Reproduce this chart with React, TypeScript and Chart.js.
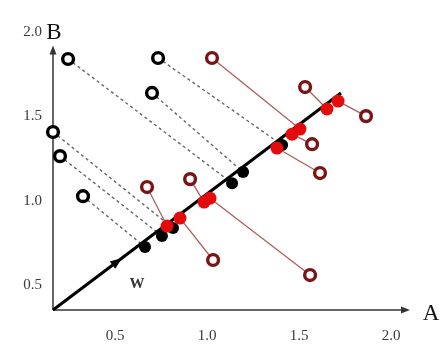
import React, { useEffect, useRef } from "react";
import { Chart, registerables } from "chart.js";

Chart.register(...registerables);

// Tick labels and axis ranges
const xTickValues = [0.5, 1.0, 1.5, 2.0];
const yTickValues = [0.5, 1.0, 1.5, 2.0];
const xRange = [0.163, 2.103];
const yRange = [0.354, 2.0];
const yAxisTip = 1.92;
const axisNames = ["A", "B"];
const vectorName = "W";
const vectorLabelPos = [0.62, 0.507];

// Projection direction W
const wStart = [0.163, 0.354];
const wEnd = [1.728, 1.639];

// Black class: original (hollow) and projected (filled)
const blackHollowX = [0.245, 0.734, 0.701, 0.163, 0.201, 0.326];
const blackHollowY = [1.84, 1.846, 1.639, 1.408, 1.265, 1.028];
const blackFilledX = [1.136, 1.408, 1.196, 0.815, 0.755, 0.663];
const blackFilledY = [1.105, 1.331, 1.171, 0.839, 0.792, 0.727];

// Red class: original (hollow) and projected (filled)
const redHollowX = [1.027, 1.533, 1.864, 1.571, 1.614, 1.033, 1.56, 0.674, 0.908];
const redHollowY = [1.846, 1.674, 1.502, 1.336, 1.165, 0.65, 0.561, 1.082, 1.129];
const redFilledX = [1.505, 1.652, 1.712, 1.462, 1.38, 0.853, 1.016, 0.783, 0.984];
const redFilledY = [1.425, 1.544, 1.591, 1.395, 1.313, 0.898, 1.016, 0.851, 0.993];

const toPts = (xs: number[], ys: number[]) => xs.map((x, i) => ({ x, y: ys[i] }));

function pairLines(
  x1: number[], y1: number[], x2: number[], y2: number[],
  color: string, width: number, dash: number[]
) {
  return x1.map((x, i) => ({
    type: "line" as const,
    data: [{ x, y: y1[i] }, { x: x2[i], y: y2[i] }],
    borderColor: color,
    borderWidth: width,
    borderDash: dash,
    pointRadius: 0,
    fill: false,
    showLine: true,
    clip: false,
    order: 20,
  }));
}

function arrowHead(ctx: CanvasRenderingContext2D, x: number, y: number, ang: number, len: number, half: number) {
  ctx.beginPath();
  ctx.moveTo(x, y);
  ctx.lineTo(x - len * Math.cos(ang) - half * Math.sin(ang), y - len * Math.sin(ang) + half * Math.cos(ang));
  ctx.lineTo(x - len * Math.cos(ang) + half * Math.sin(ang), y - len * Math.sin(ang) - half * Math.cos(ang));
  ctx.closePath();
  ctx.fill();
}

const decor = {
  id: "decor",
  beforeDatasetsDraw(chart: any) {
    const { ctx, scales } = chart;
    const xs = scales.x, ys = scales.y;
    const ox = xs.getPixelForValue(xRange[0]);
    const oy = ys.getPixelForValue(yRange[0]);
    const ex = xs.getPixelForValue(xRange[1]);
    const ty = ys.getPixelForValue(yAxisTip);
    ctx.save();
    ctx.strokeStyle = "#333";
    ctx.fillStyle = "#333";
    ctx.lineWidth = 1.5;
    ctx.beginPath();
    ctx.moveTo(ox, oy);
    ctx.lineTo(ex - 6, oy);
    ctx.stroke();
    arrowHead(ctx, ex, oy, 0, 9, 3.5);
    ctx.beginPath();
    ctx.moveTo(ox, oy);
    ctx.lineTo(ox, ty + 6);
    ctx.stroke();
    arrowHead(ctx, ox, ty, -Math.PI / 2, 9, 3.5);
    ctx.restore();
  },
  afterDatasetsDraw(chart: any) {
    const { ctx, scales } = chart;
    const xs = scales.x, ys = scales.y;
    const ox = xs.getPixelForValue(xRange[0]);
    const oy = ys.getPixelForValue(yRange[0]);
    const ex = xs.getPixelForValue(xRange[1]);
    const sx = xs.getPixelForValue(wStart[0]), sy = ys.getPixelForValue(wStart[1]);
    const fx = xs.getPixelForValue(wEnd[0]), fy = ys.getPixelForValue(wEnd[1]);
    const ang = Math.atan2(fy - sy, fx - sx);
    const t = 0.24;
    ctx.save();
    ctx.fillStyle = "#000";
    arrowHead(ctx, sx + (fx - sx) * t, sy + (fy - sy) * t, ang, 12, 4.5);
    ctx.fillStyle = "#111";
    ctx.textAlign = "center";
    ctx.textBaseline = "middle";
    ctx.font = '23px "Liberation Serif"';
    ctx.fillText(axisNames[0], ex + 21, oy + 4);
    ctx.fillText(axisNames[1], ox + 1, ys.getPixelForValue(2.0) + 1);
    ctx.fillStyle = "#333";
    ctx.font = 'bold 15px "Liberation Serif"';
    ctx.fillText(vectorName, xs.getPixelForValue(vectorLabelPos[0]), ys.getPixelForValue(vectorLabelPos[1]));
    ctx.restore();
  },
};

export default function App() {
  const ref = useRef<HTMLCanvasElement>(null);
  useEffect(() => {
    if (!ref.current) return;
    const chart = new Chart(ref.current, {
      type: "scatter",
      data: {
        datasets: [
          {
            data: toPts(blackHollowX, blackHollowY),
            backgroundColor: "#ffffff",
            borderColor: "#000000",
            borderWidth: 3.4,
            pointRadius: 5.4,
            clip: false,
            order: 1,
          },
          {
            data: toPts(redHollowX, redHollowY),
            backgroundColor: "#ffffff",
            borderColor: "#7a1515",
            borderWidth: 3.4,
            pointRadius: 5.4,
            clip: false,
            order: 1,
          },
          {
            data: toPts(redFilledX, redFilledY),
            backgroundColor: "#e30b0b",
            borderColor: "#e30b0b",
            borderWidth: 0,
            pointRadius: 6.5,
            clip: false,
            order: 3,
          },
          {
            data: toPts(blackFilledX, blackFilledY),
            backgroundColor: "#000000",
            borderColor: "#000000",
            borderWidth: 0,
            pointRadius: 6,
            clip: false,
            order: 4,
          },
          {
            type: "line",
            data: [{ x: wStart[0], y: wStart[1] }, { x: wEnd[0], y: wEnd[1] }],
            borderColor: "#000000",
            borderWidth: 3,
            pointRadius: 0,
            fill: false,
            clip: false,
            order: 5,
          } as any,
          ...pairLines(blackHollowX, blackHollowY, blackFilledX, blackFilledY, "#666666", 1.4, [3, 3]),
          ...pairLines(redHollowX, redHollowY, redFilledX, redFilledY, "#b05c5c", 1.3, []),
        ] as any,
      },
      options: {
        animation: false,
        responsive: false,
        devicePixelRatio: 1,
        events: [],
        layout: { padding: { top: 32, right: 36, left: 0, bottom: 0 } },
        plugins: { legend: { display: false }, tooltip: { enabled: false } },
        scales: {
          x: {
            type: "linear",
            min: xRange[0],
            max: xRange[1],
            grid: { display: false, drawTicks: false },
            border: { display: false },
            afterBuildTicks: (s: any) => { s.ticks = xTickValues.map((v) => ({ value: v })); },
            afterFit: (s: any) => { s.height = 35; },
            ticks: {
              padding: 17,
              color: "#3a3a3a",
              font: { family: '"Liberation Serif"', size: 15 },
              callback: (v: any) => Number(v).toFixed(1),
              maxRotation: 0,
              autoSkip: false,
            },
          },
          y: {
            type: "linear",
            min: yRange[0],
            max: yRange[1],
            grid: { display: false, drawTicks: false },
            border: { display: false },
            afterBuildTicks: (s: any) => { s.ticks = yTickValues.map((v) => ({ value: v })); },
            afterFit: (s: any) => { s.width = 53; },
            ticks: {
              padding: 11,
              color: "#3a3a3a",
              font: { family: '"Liberation Serif"', size: 15 },
              callback: (v: any) => Number(v).toFixed(1),
              autoSkip: false,
            },
          },
        },
      },
      plugins: [decor],
    });
    return () => chart.destroy();
  }, []);
  return (
    <div style={{ position: "fixed", left: 0, top: 0, width: 446, height: 345, background: "#fff" }}>
      <canvas ref={ref} width={446} height={345} />
    </div>
  );
}
